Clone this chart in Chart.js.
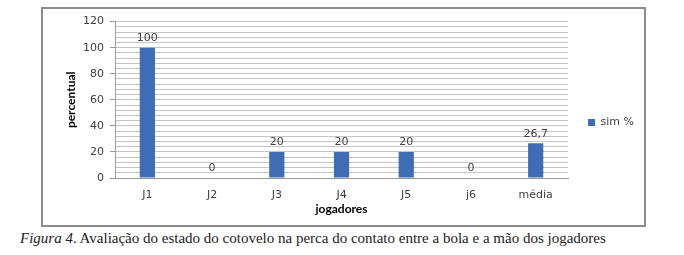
<!DOCTYPE html>
<html><head><meta charset="utf-8">
<script src="https://cdn.jsdelivr.net/npm/chart.js@4"></script>
<style>
html,body{margin:0;padding:0;background:#fff;width:684px;height:255px;overflow:hidden;}
#frame{position:absolute;left:41px;top:7px;width:605px;height:220px;box-sizing:border-box;border:2px solid #8c8c8c;}
#wrap{position:absolute;left:0;top:0;width:601px;height:216px;}
#cap{position:absolute;left:20px;top:230px;font-family:"Liberation Serif",serif;font-size:15px;color:#222;white-space:nowrap;}
</style></head><body>
<div id="frame"><div id="wrap"><canvas id="c" width="601" height="216"></canvas></div></div>
<div id="cap"><i>Figura 4</i>. Avaliação do estado do cotovelo na perca do contato entre a bola e a mão dos jogadores</div>
<script>
const categories = ['J1','J2','J3','J4','J5','j6','média'];
const simValues = [100, 0, 20, 20, 20, 0, 26.7];
const seriesName = 'sim %';
const yMax = 120;

const valueLabels = {
  id:'valueLabels',
  afterDatasetsDraw(chart){
    const ctx = chart.ctx;
    const meta = chart.getDatasetMeta(0);
    ctx.save();
    ctx.font = '11px "DejaVu Sans"';
    ctx.fillStyle = '#404040';
    ctx.textAlign = 'center';
    ctx.textBaseline = 'bottom';
    meta.data.forEach((bar,i)=>{
      const v = chart.data.datasets[0].data[i];
      ctx.fillText(String(v).replace('.',','), bar.x, bar.y - 4);
    });
    ctx.restore();
  }
};

new Chart(document.getElementById('c'), {
  type:'bar',
  data:{labels:categories, datasets:[{label:seriesName, data:simValues, backgroundColor:'#3f6db5', barPercentage:0.235, categoryPercentage:1}]},
  options:{
    responsive:false, animation:false,
    layout:{padding:{left:17,top:11,bottom:0,right:0}},
    plugins:{
      legend:{position:'right', labels:{boxWidth:7, boxHeight:7, padding:20, color:'#404040', font:{family:'"DejaVu Sans"', size:11}}},
      tooltip:{enabled:false}
    },
    scales:{
      x:{
        grid:{display:false, drawTicks:false},
        border:{color:'#9a9a9a'},
        ticks:{color:'#404040', padding:11, font:{family:'"DejaVu Sans"', size:11}},
        title:{display:true, text:'jogadores', color:'#000', font:{family:'Lato', size:12, weight:'bold'}, padding:{top:0,bottom:9}},
        afterFit(s){ s.height = 47; }
      },
      y:{
        min:0, max:yMax,
        grid:{color:'#c4c4c4', tickLength:5, tickColor:(c)=> (c.tick && c.tick.value % 20 === 0) ? '#9a9a9a' : 'rgba(0,0,0,0)'},
        border:{color:'#9a9a9a'},
        ticks:{stepSize:4, autoSkip:false, padding:6, color:'#404040', font:{family:'"DejaVu Sans"', size:11},
          callback:(v)=> v % 20 === 0 ? v : ''},
        title:{display:true, text:'percentual', color:'#000', font:{family:'Lato', size:12, weight:'bold'}, padding:{top:4,bottom:0}},
        afterFit(s){ s.width = 55; }
      }
    }
  },
  plugins:[valueLabels]
});
</script>
</body></html>
